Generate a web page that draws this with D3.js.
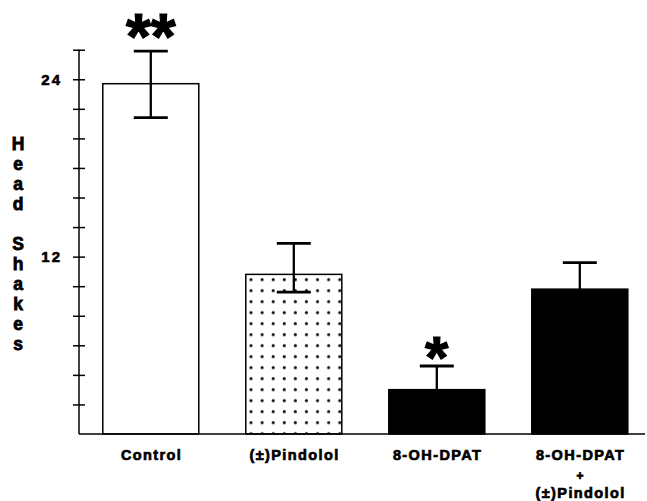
<!DOCTYPE html>
<html>
<head>
<meta charset="utf-8">
<script src="https://cdn.jsdelivr.net/npm/d3@7"></script>
<style>
  html, body { margin: 0; padding: 0; background: #fff; }
  svg { display: block; }
  text { font-family: "Liberation Sans", Arial, Helvetica, sans-serif; font-weight: bold; fill: #000; }
</style>
</head>
<body>
<svg id="chart" width="647" height="501"></svg>
<script>
// ---- data ----
const categories = ["Control", "(±)Pindolol", "8-OH-DPAT", "8-OH-DPAT + (±)Pindolol"];
const labelLines = [["Control"], ["(±)Pindolol"], ["8-OH-DPAT"], ["8-OH-DPAT", "+", "(±)Pindolol"]];
const means   = [23.7, 10.8, 3.0, 9.8];
const errUp   = [2.2, 2.1, 1.6, 1.8];
const errDown = [2.3, 1.2, 1.6, 1.8];
const fills   = ["white", "dots", "black", "black"];
const stars   = ["**", "", "*", ""];
const tickValues = [2, 4, 6, 8, 10, 12, 14, 16, 18, 20, 22, 24, 26];
const tickLabels = [12, 24];
const yLabel = "Head Shakes";

// ---- layout ----
const svg = d3.select("#chart");
const y = d3.scaleLinear().domain([0, 26]).range([434, 49.7]);
const x = d3.scaleBand().domain(categories).range([79.3, 651.3])
  .paddingInner(0.3287).paddingOuter(0.1643);

// dot pattern
const defs = svg.append("defs");
const pat = defs.append("pattern").attr("id", "dots")
  .attr("patternUnits", "userSpaceOnUse")
  .attr("width", 11.1).attr("height", 11)
  .attr("x", x(categories[1]) + 3).attr("y", y(means[1]) + 3);
pat.append("rect").attr("width", 11.1).attr("height", 11).attr("fill", "white");
pat.append("circle").attr("cx", 2.2).attr("cy", 2.2).attr("r", 1.5).attr("fill", "black");

// bars
svg.selectAll("rect.bar").data(categories).join("rect")
  .attr("class", "bar")
  .attr("x", d => x(d))
  .attr("width", x.bandwidth())
  .attr("y", (d, i) => y(means[i]))
  .attr("height", (d, i) => y(0) - y(means[i]))
  .attr("fill", (d, i) => fills[i] === "dots" ? "url(#dots)" : fills[i])
  .attr("stroke", "black")
  .attr("stroke-width", 1.5);

// error bars
const capW = 34;
const eg = svg.append("g").attr("stroke", "black").attr("stroke-width", 2.8);
categories.forEach((c, i) => {
  const cx = x(c) + x.bandwidth() / 2;
  const yt = y(means[i] + errUp[i]);
  const yb = y(means[i] - errDown[i]);
  eg.append("line").attr("x1", cx).attr("x2", cx).attr("y1", yt).attr("y2", yb).attr("stroke-width", 2.3);
  eg.append("line").attr("x1", cx - capW / 2).attr("x2", cx + capW / 2).attr("y1", yt).attr("y2", yt);
  eg.append("line").attr("x1", cx - capW / 2).attr("x2", cx + capW / 2).attr("y1", yb).attr("y2", yb);
});

// x baseline
svg.append("line").attr("x1", 79).attr("x2", 645).attr("y1", y(0)).attr("y2", y(0))
  .attr("stroke", "black").attr("stroke-width", 1.6);

// y axis
const yAxis = d3.axisLeft(y).tickValues(tickValues).tickSize(6).tickSizeOuter(0).tickPadding(11)
  .tickFormat(d => tickLabels.includes(d) ? d : "");
const ga = svg.append("g").attr("transform", "translate(79,0)").call(yAxis);
ga.select(".domain").attr("d", `M0,${y(0)}V${y(26)}`).attr("stroke-width", 1.5);
ga.selectAll(".tick line").attr("x1", -6).attr("x2", 6).attr("stroke-width", 1.5);
ga.selectAll(".tick text").style("font-size", "15px").style("font-weight", "bold")
  .style("font-family", '"Liberation Sans", Arial, sans-serif').attr("letter-spacing", 2)
  .attr("stroke", "black").attr("stroke-width", 0.6);

// y label, stacked letters
const letters = yLabel.split("");
let ly = 149.5;
letters.forEach(ch => {
  if (ch !== " ") {
    svg.append("text").attr("x", 18).attr("y", ly).attr("text-anchor", "middle")
      .style("font-size", "17.5px").attr("stroke", "black").attr("stroke-width", 0.8).text(ch);
  }
  ly += 20;
});

// category labels
const lineY = [460, 480, 498];
categories.forEach((c, i) => {
  const cx = x(c) + x.bandwidth() / 2;
  labelLines[i].forEach((t, j) => {
    const isPlus = t === "+";
    svg.append("text").attr("x", cx + 0.8).attr("y", lineY[j])
      .attr("text-anchor", "middle")
      .style("font-size", isPlus ? "12px" : "14.5px")
      .attr("letter-spacing", 1.4)
      .attr("stroke", "black").attr("stroke-width", 0.7)
      .text(t);
  });
});

// significance stars
categories.forEach((c, i) => {
  if (!stars[i]) return;
  const cx = x(c) + x.bandwidth() / 2;
  const top = y(means[i] + errUp[i]);
  svg.append("text").attr("x", cx).attr("y", top + (i === 0 ? 8 : 12))
    .attr("text-anchor", "middle")
    .style("font-size", i === 0 ? "64px" : "60px")
    .attr("stroke", "black").attr("stroke-width", 1.2)
    .text(stars[i]);
});
</script>
</body>
</html>
